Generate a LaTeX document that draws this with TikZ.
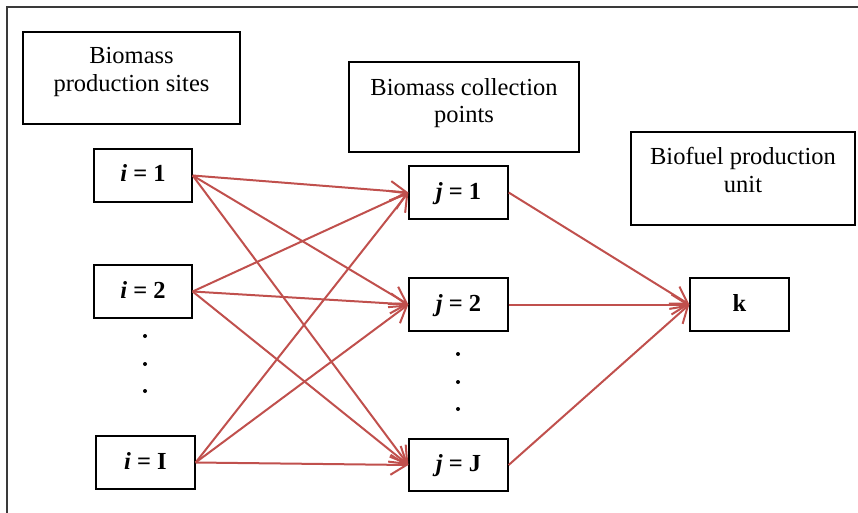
\documentclass[tikz,border=0pt]{standalone}
\usepackage{fontspec}
\setmainfont{Liberation Serif}
\usetikzlibrary{arrows.meta}
\definecolor{arrred}{HTML}{C0504D}
\definecolor{framegray}{HTML}{3A3A3A}
\tikzset{
  hdrbox/.style={draw, line width=1.3pt, inner sep=0pt},
  hdrtext/.style={anchor=base, inner sep=0pt, font=\fontsize{24.5}{28}\selectfont},
  varbox/.style={draw, line width=1.3pt, inner sep=0pt, minimum width=98pt, minimum height=53pt,
    text height=13pt, text depth=0pt, font=\fontsize{24.5}{28}\selectfont\bfseries},
  dotmark/.style={circle, fill=black, inner sep=0pt, minimum size=4pt},
  flow/.style={draw=arrred, line width=2pt, -{Straight Barb[length=16pt,width=20pt,line width=2pt]}}
}
\begin{document}
\begin{tikzpicture}[x=1pt, y=-1pt]
\useasboundingbox (0,0) rectangle (858,513);
\clip (0,0) rectangle (858,513);
\draw[framegray, line width=1.1pt] (7,7) rectangle (880,540);

% header boxes
\node[hdrbox, minimum width=217pt, minimum height=92pt] (hps) at (131.5,78) {};
\node[hdrtext] (hps1) at (131.5,64) {Biomass};
\node[hdrtext] (hps2) at (131.5,92) {production sites};

\node[hdrbox, minimum width=230pt, minimum height=90pt] (hcp) at (464,107) {};
\node[hdrtext] (hcp1) at (464,95.5) {Biomass collection};
\node[hdrtext] (hcp2) at (464,123) {points};

\node[hdrbox, minimum width=224pt, minimum height=93pt] (hbu) at (743,178.5) {};
\node[hdrtext] (hbu1) at (743,164.5) {Biofuel production};
\node[hdrtext] (hbu2) at (743,192.5) {unit};

% variable boxes
\node[varbox] (i1) at (143,175.5) {{\itshape i} = 1};
\node[varbox] (i2) at (143,291.5) {{\itshape i} = 2};
\node[varbox, minimum width=99pt] (iI) at (145.5,462.5) {{\itshape i} = I};

\node[varbox, minimum width=99pt] (j1) at (458.5,192.5) {{\itshape j} = 1};
\node[varbox, minimum width=99pt] (j2) at (458.5,304.5) {{\itshape j} = 2};
\node[varbox, minimum width=99pt, minimum height=52pt] (jJ) at (458.5,465) {{\itshape j} = J};

\node[varbox, minimum width=99pt] (k) at (739.5,304.5) {k};

% dots
\node[dotmark] (dl1) at (145,336) {};
\node[dotmark] (dl2) at (145,364) {};
\node[dotmark] (dl3) at (145,391) {};
\node[dotmark] (dr1) at (458,354) {};
\node[dotmark] (dr2) at (458,382) {};
\node[dotmark] (dr3) at (458,409) {};

% arrows
\foreach \s in {i1,i2,iI}{
  \foreach \t in {j1,j2,jJ}{
    \draw[flow] (\s.east) -- (\t.west);
  }
}
\foreach \s in {j1,j2,jJ}{
  \draw[flow] (\s.east) -- (k.west);
}
\end{tikzpicture}
\end{document}
